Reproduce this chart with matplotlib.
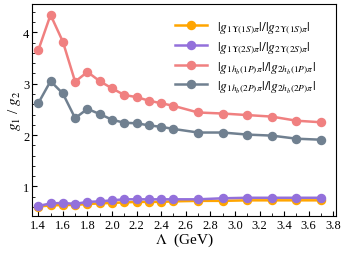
import numpy as np
import matplotlib
matplotlib.use('Agg')
import matplotlib.pyplot as plt
from matplotlib.ticker import MultipleLocator

plt.rcParams.update({
    'font.family': 'Liberation Serif',
    'mathtext.fontset': 'stix',
    'font.size': 9,
    'xtick.direction': 'in',
    'ytick.direction': 'in',
})

# Lambda values (GeV)
lam = [1.4, 1.5, 1.6, 1.7, 1.8, 1.9, 2.0, 2.1, 2.2, 2.3, 2.4, 2.5,
       2.7, 2.9, 3.1, 3.3, 3.5, 3.7]

ups1s = [0.61, 0.63, 0.64, 0.64, 0.66, 0.67, 0.68, 0.69, 0.70, 0.70, 0.70, 0.71,
         0.72, 0.72, 0.73, 0.73, 0.73, 0.73]
ups2s = [0.62, 0.67, 0.68, 0.66, 0.70, 0.71, 0.73, 0.75, 0.75, 0.75, 0.75, 0.75,
         0.75, 0.77, 0.78, 0.78, 0.78, 0.78]
hb1p = [3.65, 4.34, 3.82, 3.04, 3.23, 3.05, 2.91, 2.78, 2.74, 2.67, 2.62, 2.57,
        2.44, 2.42, 2.39, 2.36, 2.28, 2.25]
hb2p = [2.62, 3.05, 2.81, 2.33, 2.51, 2.41, 2.30, 2.24, 2.23, 2.19, 2.16, 2.12,
        2.05, 2.05, 2.01, 1.99, 1.93, 1.91]

series = [
    (ups1s, '#FFA500', r'$|g_{1\Upsilon(1S)\pi}|/|g_{2\Upsilon(1S)\pi}|$'),
    (ups2s, '#9370DB', r'$|g_{1\Upsilon(2S)\pi}|/|g_{2\Upsilon(2S)\pi}|$'),
    (hb1p, '#F08080', r'$|g_{1h_b(1P)\pi}|/|g_{2h_b(1P)\pi}|$'),
    (hb2p, '#708090', r'$|g_{1h_b(2P)\pi}|/|g_{2h_b(2P)\pi}|$'),
]

fig = plt.figure(figsize=(3.49, 2.55), dpi=100)
ax = fig.add_axes([0.092, 0.150, 0.870, 0.830])

for vals, col, lab in series:
    ax.plot(lam, vals, color=col, linewidth=1.8, marker='o', markersize=5.8, label=lab)

ax.set_xlim(1.35, 3.82)
ax.set_ylim(0.43, 4.55)
ax.xaxis.set_major_locator(MultipleLocator(0.2))
ax.xaxis.set_minor_locator(MultipleLocator(0.1))
ax.yaxis.set_major_locator(MultipleLocator(1))
ax.yaxis.set_minor_locator(MultipleLocator(0.2))
ax.tick_params(which='major', length=3.5, width=0.8, pad=2, labelsize=9)
ax.tick_params(which='minor', length=2, width=0.6)
ax.set_xticklabels([f'{v:.1f}' for v in ax.get_xticks()])

ax.set_xlabel(r'$\Lambda$  (GeV)', fontsize=11, labelpad=0)
ax.set_ylabel(r'$g_1$ / $g_2$', fontsize=11, labelpad=0)

ax.legend(loc='upper right', bbox_to_anchor=(0.975, 0.985), frameon=False,
          fontsize=9.6, handlelength=2.4, handletextpad=0.8, labelspacing=0.3)

fig.savefig('out.png', dpi=100)
